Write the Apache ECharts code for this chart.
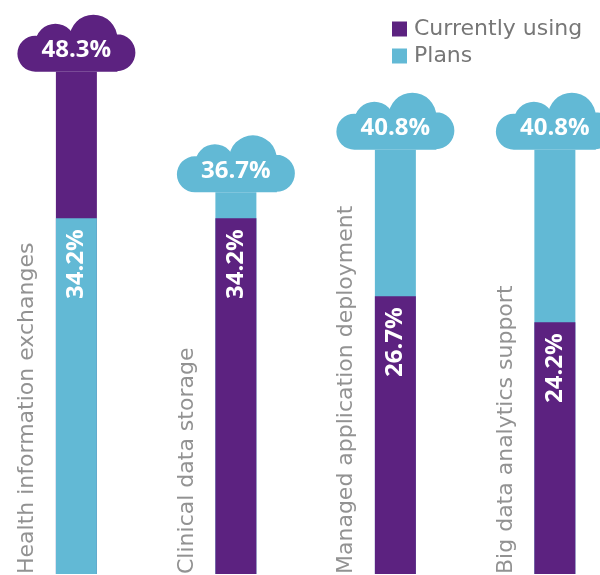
<!DOCTYPE html>
<html>
<head>
<meta charset="utf-8">
<script src="https://cdn.jsdelivr.net/npm/echarts@6/dist/echarts.min.js"></script>
<style>
  html, body { margin: 0; padding: 0; background: #fff; }
  #chart { width: 600px; height: 575px; }
</style>
</head>
<body>
<div id="chart"></div>
<script>
const categories = [
  "Health information exchanges",
  "Clinical data storage",
  "Managed application deployment",
  "Big data analytics support"
];
const usingValues = [48.3, 34.2, 26.7, 24.2];
const planValues = [34.2, 36.7, 40.8, 40.8];

const PURPLE = "#5c2280";
const BLUE = "#62b9d5";

// cloud outline: four circles + a flat body, all clockwise so they merge
const cloudPath = "path://" +
  "M0,39 A18,18 0 1 1 36,39 A18,18 0 1 1 0,39 Z " +
  "M18,29 A20,20 0 1 1 58,29 A20,20 0 1 1 18,29 Z " +
  "M52,24 A24,24 0 1 1 100,24 A24,24 0 1 1 52,24 Z " +
  "M81,38 A18.5,18.5 0 1 1 118,38 A18.5,18.5 0 1 1 81,38 Z " +
  "M18,30 L100,30 L100,57 L18,57 Z";

// larger value sits behind (with the cloud), smaller one in front
const pick = (vals, keep) => vals.map((v, i) => [i, keep(i) ? v : "-"]);
const usingBack = pick(usingValues, i => usingValues[i] > planValues[i]);
const planBack = pick(planValues, i => planValues[i] >= usingValues[i]);
const usingFront = pick(usingValues, i => usingValues[i] <= planValues[i]);
const planFront = pick(planValues, i => planValues[i] < usingValues[i]);

const cloudData = categories.map((c, i) => {
  const useBig = usingValues[i] > planValues[i];
  return {
    value: [i, useBig ? usingValues[i] : planValues[i]],
    itemStyle: { color: useBig ? PURPLE : BLUE }
  };
});

const frontLabel = {
  show: true,
  position: "insideTop",
  distance: 11,
  rotate: 90,
  align: "right",
  verticalAlign: "middle",
  color: "#fff",
  fontFamily: "Open Sans",
  fontWeight: "bold",
  fontSize: 24,
  formatter: p => p.value[1] + "%"
};

const barBase = { type: "bar", barWidth: 41, barGap: "-100%" };

const chart = echarts.init(document.getElementById("chart"));
chart.setOption({
  animation: false,
  legend: {
    orient: "vertical",
    left: 392,
    top: 18,
    padding: 0,
    icon: "rect",
    itemWidth: 15,
    itemHeight: 15,
    itemGap: 5,
    data: ["Currently using", "Plans"],
    textStyle: {
      color: "#777",
      fontFamily: "DejaVu Sans",
      fontSize: 22,
      lineHeight: 15,
      padding: [0, 0, 0, 2]
    }
  },
  grid: { left: 0, right: 0, top: 2, bottom: 1 },
  // one unit per category, ~159.5px apart, first bar centred at x≈76
  xAxis: { type: "value", min: -0.479, max: 3.283, show: false },
  yAxis: { type: "value", min: 0, max: 55, show: false },
  series: [
    Object.assign({}, barBase, { name: "Currently using", data: usingBack, itemStyle: { color: PURPLE } }),
    Object.assign({}, barBase, { name: "Plans", data: planBack, itemStyle: { color: BLUE } }),
    Object.assign({}, barBase, { name: "Currently using", data: usingFront, itemStyle: { color: PURPLE }, label: frontLabel }),
    Object.assign({}, barBase, { name: "Plans", data: planFront, itemStyle: { color: BLUE }, label: frontLabel }),
    {
      name: "clouds",
      type: "scatter",
      symbol: cloudPath,
      symbolSize: [118, 57],
      symbolOffset: [0, -28.5],
      clip: false,
      itemStyle: { opacity: 1 },
      data: cloudData,
      label: {
        show: true,
        position: "inside",
        offset: [0, 7],
        color: "#fff",
        fontFamily: "Open Sans",
        fontWeight: "bold",
        fontSize: 24,
        formatter: p => p.value[1] + "%"
      }
    },
    {
      name: "names",
      type: "scatter",
      symbolSize: 1,
      itemStyle: { color: "rgba(0,0,0,0)" },
      clip: false,
      data: categories.map((c, i) => [i, 0]),
      label: {
        show: true,
        position: [-48.5, 0.5],
        rotate: 90,
        align: "left",
        verticalAlign: "middle",
        color: "#777",
        fontFamily: "DejaVu Sans",
        fontSize: 22,
        formatter: p => categories[p.dataIndex]
      }
    }
  ]
});
</script>
</body>
</html>
